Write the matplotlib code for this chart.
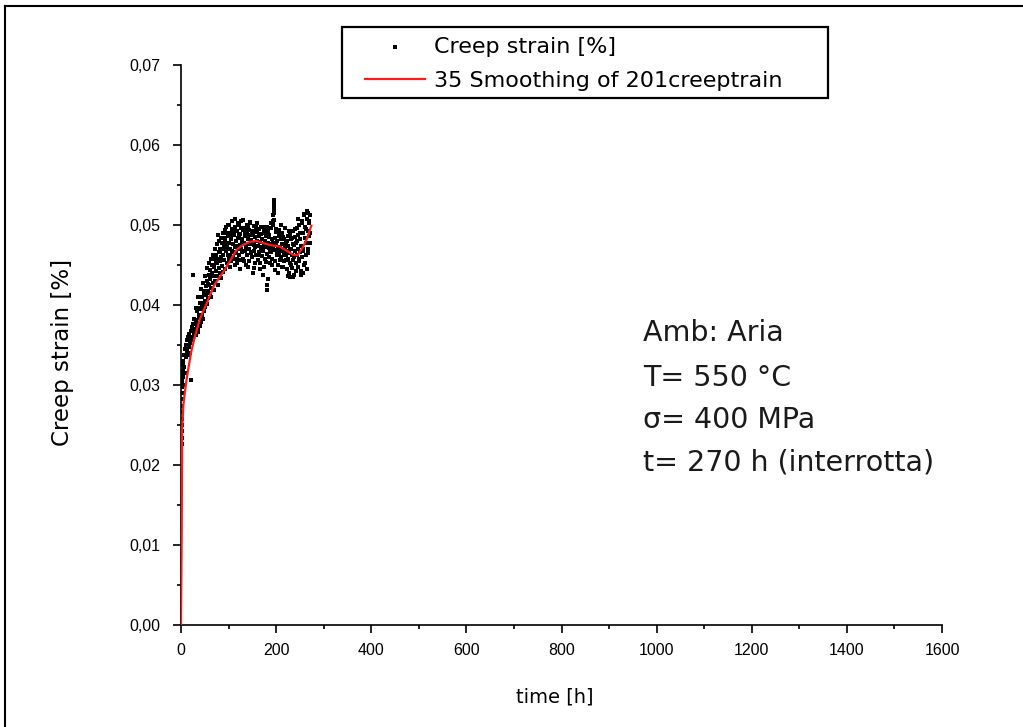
import matplotlib
matplotlib.use("Agg")
import matplotlib.pyplot as plt
from matplotlib.lines import Line2D
from matplotlib.patches import Rectangle
from matplotlib.ticker import FixedLocator, FuncFormatter, MultipleLocator

# ---------------- data ----------------
# early, near-vertical rise
t_a = [0.3, 0.5, 0.6, 0.8, 0.9, 1.0, 1.2, 1.3, 1.5, 1.6, 1.8, 2.0, 2.2, 2.4, 2.6, 2.8,
       3.0, 3.3, 3.6, 4.0, 4.4, 4.8]
y_a = [0.0178, 0.0186, 0.0194, 0.0202, 0.0210, 0.0218, 0.0226, 0.0234, 0.0242, 0.0250,
       0.0258, 0.0266, 0.0274, 0.0282, 0.0290, 0.0298, 0.0305, 0.0312, 0.0300, 0.0318,
       0.0325, 0.0310]

t_b = [5, 6, 7, 8, 9, 10, 11, 12, 13, 14, 15, 16, 17, 18, 19, 20, 21, 22, 23, 24, 25,
       26, 27, 28, 29]
y_b = [0.0330, 0.0322, 0.0338, 0.0315, 0.0345, 0.0335, 0.0350, 0.0342, 0.0356, 0.0338,
       0.0360, 0.0348, 0.0364, 0.0352, 0.0340, 0.0368, 0.0356, 0.0306, 0.0372, 0.0360,
       0.0438, 0.0376, 0.0364, 0.0382, 0.0370]

t_c1 = list(range(30, 101))
y_c1 = [0.0368, 0.0381, 0.0362, 0.0375, 0.0392, 0.0370, 0.0366, 0.0388, 0.0396, 0.0374,
        0.0384, 0.0402, 0.0379, 0.0395, 0.0388, 0.0410, 0.0383, 0.0400, 0.0418, 0.0392,
        0.0405, 0.0398, 0.0424, 0.0412, 0.0401, 0.0430, 0.0418, 0.0409, 0.0425, 0.0438,
        0.0415, 0.0432, 0.0444, 0.0421, 0.0410, 0.0440, 0.0450, 0.0428, 0.0436, 0.0419,
        0.0448, 0.0458, 0.0430, 0.0442, 0.0462, 0.0436, 0.0452, 0.0425, 0.0488, 0.0446,
        0.0466, 0.0440, 0.0455, 0.0470, 0.0434, 0.0460, 0.0478, 0.0449, 0.0463, 0.0441,
        0.0472, 0.0456, 0.0484, 0.0445, 0.0468, 0.0490, 0.0452, 0.0476, 0.0462, 0.0486,
        0.0458]

t_c2 = [31.5, 33.5, 35.5, 37.5, 39.5, 41.5, 43.5, 45.5, 47.5, 49.5,
        51.5, 53.5, 55.5, 57.5, 59.5, 61.5, 63.5, 65.5, 67.5, 69.5,
        71.5, 73.5, 75.5, 77.5, 79.5, 81.5, 83.5, 85.5, 87.5, 89.5,
        91.5, 93.5, 95.5, 97.5, 99.5]
y_c2 = [0.0396, 0.0378, 0.0410, 0.0386, 0.0402, 0.0420, 0.0398, 0.0428, 0.0412, 0.0404,
        0.0436, 0.0418, 0.0446, 0.0426, 0.0452, 0.0434, 0.0458, 0.0440, 0.0462, 0.0448,
        0.0470, 0.0452, 0.0476, 0.0458, 0.0480, 0.0466, 0.0484, 0.0470, 0.0490, 0.0476,
        0.0494, 0.0480, 0.0498, 0.0472, 0.0500]

t_d1 = list(range(101, 273))
y_d1 = [0.0478, 0.0462, 0.0490, 0.0470, 0.0455, 0.0485, 0.0468, 0.0495, 0.0460, 0.0476,
        0.0488, 0.0458, 0.0472, 0.0498, 0.0465, 0.0480, 0.0452, 0.0492, 0.0470, 0.0484,
        0.0462, 0.0500, 0.0475, 0.0456, 0.0489, 0.0470, 0.0505, 0.0466, 0.0482, 0.0494,
        0.0458, 0.0478, 0.0496, 0.0468, 0.0486, 0.0450, 0.0474, 0.0492, 0.0462, 0.0483,
        0.0497, 0.0470, 0.0455, 0.0488, 0.0476, 0.0502, 0.0465, 0.0481, 0.0493, 0.0460,
        0.0478, 0.0490, 0.0468, 0.0446, 0.0485, 0.0472, 0.0498, 0.0462, 0.0480, 0.0491,
        0.0456, 0.0474, 0.0487, 0.0466, 0.0495, 0.0452, 0.0479, 0.0470, 0.0489, 0.0461,
        0.0483, 0.0497, 0.0468, 0.0448, 0.0476, 0.0490, 0.0458, 0.0472, 0.0486, 0.0464,
        0.0425, 0.0478, 0.0492, 0.0460, 0.0471, 0.0485, 0.0453, 0.0476, 0.0496, 0.0466,
        0.0482, 0.0458, 0.0472, 0.0500, 0.0515, 0.0469, 0.0484, 0.0455, 0.0477, 0.0491,
        0.0462, 0.0480, 0.0450, 0.0473, 0.0494, 0.0465, 0.0486, 0.0456, 0.0470, 0.0482,
        0.0460, 0.0476, 0.0490, 0.0448, 0.0467, 0.0483, 0.0455, 0.0472, 0.0496, 0.0462,
        0.0478, 0.0445, 0.0468, 0.0486, 0.0457, 0.0474, 0.0440, 0.0465, 0.0488, 0.0452,
        0.0470, 0.0482, 0.0446, 0.0463, 0.0492, 0.0456, 0.0475, 0.0438, 0.0468, 0.0485,
        0.0452, 0.0478, 0.0462, 0.0496, 0.0448, 0.0470, 0.0487, 0.0458, 0.0500, 0.0466,
        0.0482, 0.0442, 0.0474, 0.0505, 0.0460, 0.0490, 0.0470, 0.0512, 0.0450, 0.0484,
        0.0498, 0.0462, 0.0478, 0.0508, 0.0445, 0.0492, 0.0515, 0.0470, 0.0486, 0.0502,
        0.0478, 0.0512]

t_d2 = [100.5, 102.5, 104.5, 106.5, 108.5, 110.5, 112.5, 114.5, 116.5, 118.5,
        120.5, 122.5, 124.5, 126.5, 128.5, 130.5, 132.5, 134.5, 136.5, 138.5,
        140.5, 142.5, 144.5, 146.5, 148.5, 150.5, 152.5, 154.5, 156.5, 158.5,
        160.5, 162.5, 164.5, 166.5, 168.5, 170.5, 172.5, 174.5, 176.5, 178.5,
        180.5, 182.5, 184.5, 186.5, 188.5, 190.5, 192.5, 194.5, 196.5, 198.5,
        200.5, 202.5, 204.5, 206.5, 208.5, 210.5, 212.5, 214.5, 216.5, 218.5,
        220.5, 222.5, 224.5, 226.5, 228.5, 230.5, 232.5, 234.5, 236.5, 238.5,
        240.5, 242.5, 244.5, 246.5, 248.5, 250.5, 252.5, 254.5, 256.5, 258.5,
        260.5, 262.5, 264.5, 266.5, 268.5, 270.5]
y_d2 = [0.0500, 0.0448, 0.0482, 0.0505, 0.0466, 0.0493, 0.0450, 0.0508, 0.0474, 0.0458,
        0.0502, 0.0487, 0.0445, 0.0496, 0.0478, 0.0506, 0.0455, 0.0490, 0.0470, 0.0500,
        0.0447, 0.0494, 0.0504, 0.0466, 0.0488, 0.0440, 0.0499, 0.0475, 0.0452, 0.0493,
        0.0503, 0.0463, 0.0486, 0.0445, 0.0497, 0.0472, 0.0438, 0.0492, 0.0480, 0.0454,
        0.0498, 0.0432, 0.0487, 0.0468, 0.0502, 0.0450, 0.0478, 0.0523, 0.0506, 0.0444,
        0.0495, 0.0467, 0.0440, 0.0489, 0.0473, 0.0500, 0.0447, 0.0485, 0.0462, 0.0496,
        0.0456, 0.0480, 0.0436, 0.0492, 0.0470, 0.0450, 0.0484, 0.0435, 0.0476, 0.0460,
        0.0495, 0.0443, 0.0480, 0.0508, 0.0455, 0.0490, 0.0438, 0.0503, 0.0468, 0.0514,
        0.0452, 0.0495, 0.0518, 0.0465, 0.0505, 0.0490]

# isolated points (vertical streak near 195 h, low outliers)
t_out = [194.0, 194.0, 194.5, 195.0, 195.0, 181.5, 229.0, 257.0]
y_out = [0.0505, 0.0512, 0.0520, 0.0528, 0.0531, 0.0419, 0.0435, 0.0440]

# smoothed curve
t_smooth = [0, 1.5, 2.5, 5, 10, 15, 22, 29, 40, 54, 70, 92, 105, 117, 130, 145, 159,
            175, 187, 208, 222, 235, 245, 256, 265, 271, 274]
y_smooth = [0.0, 0.0120, 0.0245, 0.0275, 0.0300, 0.0319, 0.0343, 0.0360, 0.0383, 0.0402,
            0.0425, 0.0444, 0.0457, 0.0469, 0.0475, 0.0479, 0.0480, 0.0477, 0.0475,
            0.0473, 0.0468, 0.0463, 0.0462, 0.0472, 0.0483, 0.0494, 0.0499]

x_ticks = [0, 200, 400, 600, 800, 1000, 1200, 1400, 1600]
y_ticks = [0.00, 0.01, 0.02, 0.03, 0.04, 0.05, 0.06, 0.07]

series_label = "Creep strain [%]"
smooth_label = "35 Smoothing of 201creeptrain"
x_label = "time [h]"
y_label = "Creep strain [%]"
note_lines = ["Amb: Aria", "T= 550 °C", "σ= 400 MPa", "t= 270 h (interrotta)"]

# ---------------- figure ----------------
W, H = 1023, 727
fig = plt.figure(figsize=(W / 100, H / 100), dpi=100)
fig.patch.set_facecolor("white")

ax = fig.add_axes([181 / W, 1 - 625 / H, (942 - 181) / W, (625 - 65) / H])

t_all = t_a + t_b + t_c1 + t_c2 + t_d1 + t_d2 + t_out
y_all = y_a + y_b + y_c1 + y_c2 + y_d1 + y_d2 + y_out

ax.scatter(t_all, y_all, marker="s", s=8, color="black", linewidths=0,
           label=series_label, zorder=2)
ax.plot(t_smooth, y_smooth, color="#ff1a1a", lw=1.6, label=smooth_label, zorder=3)

ax.set_xlim(x_ticks[0], x_ticks[-1])
ax.set_ylim(y_ticks[0], y_ticks[-1])

for side in ("top", "right"):
    ax.spines[side].set_visible(False)
for side in ("left", "bottom"):
    ax.spines[side].set_linewidth(1.2)

ax.xaxis.set_major_locator(FixedLocator(x_ticks))
ax.yaxis.set_major_locator(FixedLocator(y_ticks))
ax.xaxis.set_minor_locator(MultipleLocator(100))
ax.yaxis.set_minor_locator(MultipleLocator(0.005))
ax.yaxis.set_major_formatter(FuncFormatter(lambda v, p: f"{v:.2f}".replace(".", ",")))
ax.xaxis.set_major_formatter(FuncFormatter(lambda v, p: f"{int(round(v))}"))

tick_font = ["Liberation Sans Narrow", "Liberation Sans"]
ax.tick_params(axis="both", which="major", direction="out", length=6, width=1.2,
               labelsize=11.5)
ax.tick_params(axis="both", which="minor", direction="out", length=3.2, width=1.2)
ax.tick_params(axis="y", which="major", pad=9)
ax.tick_params(axis="x", which="major", pad=7)
for lab in ax.get_xticklabels() + ax.get_yticklabels():
    lab.set_fontfamily(tick_font)

ax.set_xlabel(x_label, fontsize=14, family="DejaVu Sans")
ax.set_ylabel(y_label, fontsize=16.5, family="DejaVu Sans")
ax.xaxis.set_label_coords((555 - 181) / (942 - 181), (625 - 697) / (625 - 65))
ax.yaxis.set_label_coords((63 - 181) / (942 - 181), (625 - 352) / (625 - 65))
ax.xaxis.label.set_va("center")
ax.yaxis.label.set_va("center")

# legend: frame drawn separately (inside the axes' artist list, below the legend)
frame = Rectangle((342 / W, 1 - 98 / H), (828 - 342) / W, (98 - 27) / H,
                  transform=fig.transFigure, fill=True, facecolor="white",
                  edgecolor="black", lw=1.6, zorder=4, clip_on=False)
ax.add_patch(frame)
leg = ax.legend(loc="upper left", bbox_to_anchor=(365 / W, 1 - 37 / H),
                bbox_transform=fig.transFigure, borderaxespad=0, borderpad=0,
                frameon=False, prop={"family": "DejaVu Sans", "size": 16},
                handlelength=2.7, handletextpad=0.4, labelspacing=0.62,
                scatterpoints=1, markerscale=1.0)
leg.set_zorder(6)

# annotation block
for line, yc in zip(note_lines, [333, 378, 420, 463]):
    fig.text(643 / W, 1 - yc / H, line, fontsize=20.5, family="DejaVu Sans",
             ha="left", va="center", color="#1a1a1a")

# outer frame (left and top edges visible in the reference)
fig.add_artist(Line2D([4.5 / W, 4.5 / W], [0, 1 - 5.5 / H], transform=fig.transFigure,
                      color="black", lw=1.5))
fig.add_artist(Line2D([4.5 / W, 1], [1 - 5.5 / H, 1 - 5.5 / H], transform=fig.transFigure,
                      color="black", lw=1.5))

fig.savefig("out.png", dpi=100)
